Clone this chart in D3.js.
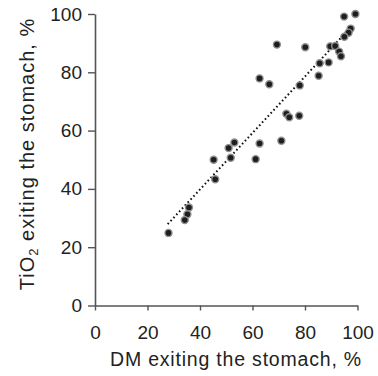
<!DOCTYPE html>
<html>
<head>
<meta charset="utf-8">
<script src="https://cdn.jsdelivr.net/npm/d3@7"></script>
<style>
  body { margin: 0; background: #fff; }
  svg text { font-family: "Liberation Sans", Arial, sans-serif; fill: #222; }
</style>
</head>
<body>
<div id="chart"></div>
<script>
var width = 378;
var height = 376;

// DM exiting the stomach (%) vs TiO2 exiting the stomach (%)
var dmPct = [94.9, 99.2, 97.4, 96.6, 95.0, 69.3, 80.1, 89.6, 91.5, 93.0, 93.7,
             85.6, 89.0, 85.2, 62.7, 66.4, 78.0, 72.9, 74.0, 77.8,
             53.1, 50.9, 51.7, 45.2, 45.8, 35.8, 35.2, 34.2, 28.0,
             62.7, 71.0, 61.2];
var tio2Pct = [99.1, 100.0, 95.0, 93.6, 92.2, 89.5, 88.6, 88.9, 89.0, 87.1, 85.5,
               83.1, 83.4, 78.8, 77.9, 75.9, 75.5, 65.8, 64.6, 65.1,
               55.9, 54.0, 50.7, 50.0, 43.3, 33.6, 31.3, 29.3, 24.9,
               55.6, 56.5, 50.2];

// fitted line endpoints
var fitX = [27.7, 98.0];
var fitY = [27.9, 96.0];

var xTicks = [0, 20, 40, 60, 80, 100];
var yTicks = [0, 20, 40, 60, 80, 100];

var svg = d3.select("#chart").append("svg")
    .attr("width", width)
    .attr("height", height);

var x = d3.scaleLinear().domain([0, 100]).range([95, 357.5]);
var y = d3.scaleLinear().domain([0, 100]).range([305.5, 14]);

var xAxis = svg.append("g")
    .attr("transform", "translate(0," + y(0) + ")")
    .call(d3.axisBottom(x).tickValues(xTicks).tickSize(5).tickSizeOuter(0).tickPadding(15.5));

var yAxis = svg.append("g")
    .attr("transform", "translate(" + x(0) + ",0)")
    .call(d3.axisLeft(y).tickValues(yTicks).tickSize(7).tickSizeOuter(0).tickPadding(6));

[xAxis, yAxis].forEach(function(a) {
    a.select(".domain").attr("stroke", "#555").attr("stroke-width", 1.6);
    a.selectAll(".tick line").attr("stroke", "#555").attr("stroke-width", 1.4);
    a.selectAll(".tick text").style("font-size", "19px").attr("fill", "#222");
});

// trend line (dotted)
var fit = fitX.map(function(v, i) { return [v, fitY[i]]; });
svg.append("path")
    .datum(fit)
    .attr("d", d3.line().x(function(d) { return x(d[0]); }).y(function(d) { return y(d[1]); }))
    .attr("fill", "none")
    .attr("stroke", "#111")
    .attr("stroke-width", 2)
    .attr("stroke-dasharray", "1.6,2.6");

// points
var pts = dmPct.map(function(v, i) { return [v, tio2Pct[i]]; });
svg.append("g").selectAll("circle")
    .data(pts)
    .enter().append("circle")
    .attr("cx", function(d) { return x(d[0]); })
    .attr("cy", function(d) { return y(d[1]); })
    .attr("r", 3.5)
    .attr("fill", "#1e1e1e")
    .attr("stroke", "#909090")
    .attr("stroke-width", 1.4);

// axis titles
svg.append("text")
    .attr("x", 236)
    .attr("y", 366)
    .attr("text-anchor", "middle")
    .style("font-size", "19.5px")
    .style("letter-spacing", "0.8px")
    .text("DM exiting the stomach, %");

var yt = svg.append("text")
    .attr("transform", "translate(34,154) rotate(-90)")
    .attr("text-anchor", "middle")
    .style("font-size", "20px")
    .style("letter-spacing", "1px");
yt.append("tspan").text("TiO");
yt.append("tspan").attr("dy", 4).style("font-size", "13px").text("2");
yt.append("tspan").attr("dy", -4).text(" exiting the stomach, %");
</script>
</body>
</html>
